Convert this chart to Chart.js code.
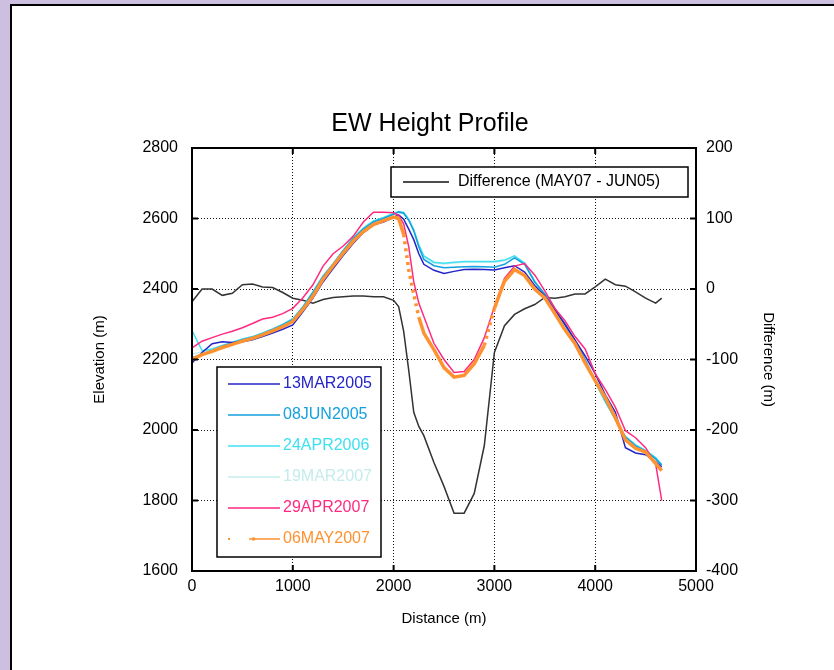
<!DOCTYPE html>
<html>
<head>
<meta charset="utf-8">
<script src="https://cdn.jsdelivr.net/npm/chart.js@4/dist/chart.umd.min.js"></script>
<style>
  html, body { margin: 0; padding: 0; overflow: hidden; background: #ccbfe0; }
  #panel { position: absolute; left: 10px; top: 4px; width: 900px; height: 800px; background: #fff; border: 2px solid #000; }
  #c { position: absolute; left: 0; top: 0; }
</style>
</head>
<body>
<div id="panel"></div>
<canvas id="c" width="834" height="670"></canvas>
<script>
// distance along the profile (m)
const distance = [0, 100, 200, 300, 400, 500, 600, 700, 800, 900, 1000, 1100, 1200, 1300, 1400, 1500, 1600, 1700, 1800, 1900, 2000,
  2050, 2100, 2150, 2200, 2250,
  2300, 2400, 2500, 2600, 2700, 2800, 2900, 3000, 3100, 3200, 3300, 3400, 3500, 3600, 3700, 3800, 3900, 4000, 4100, 4200, 4300, 4400, 4500, 4600,
  4660];

// elevation (m) per survey date
const mar2005 = [2190, 2220, 2245, 2250, 2248, 2250, 2256, 2265, 2275, 2286, 2298, 2335, 2374, 2420, 2458, 2495, 2530, 2560, 2582, 2590, 2603,
  2610, 2598, 2570, 2540, 2500,
  2470, 2453, 2444, 2450, 2455, 2456, 2455, 2454, 2460, 2466, 2448, 2410, 2380, 2340, 2300, 2255, 2210, 2160, 2100, 2050, 1950, 1935, 1930, 1910,
  1895];
const jun2005 = [2205, 2215, 2226, 2238, 2247, 2256, 2263, 2273, 2285, 2298, 2313, 2348, 2390, 2435, 2470, 2508, 2543, 2570, 2590, 2600, 2612,
  2618, 2615, 2595, 2565, 2520,
  2484, 2466, 2460, 2462, 2463, 2464, 2463, 2462, 2470, 2488, 2470, 2420, 2385, 2345, 2300, 2255, 2200, 2140, 2085, 2030, 1980, 1955, 1940, 1918,
  1900];
const apr2006 = [2282, 2225, 2230, 2240, 2249, 2258, 2265, 2275, 2287, 2300, 2316, 2350, 2392, 2437, 2472, 2510, 2546, 2573, 2593, 2603, 2614,
  2620, 2617, 2598, 2568, 2525,
  2494, 2476, 2473, 2476, 2478, 2478, 2478, 2478, 2482, 2494, 2474, 2422, 2384, 2342, 2296, 2250, 2195, 2135, 2080, 2030, 1982, 1958, 1942, 1922,
  1902];
const mar2007 = [2215, 2222, 2229, 2239, 2248, 2257, 2264, 2274, 2286, 2299, 2314, 2349, 2391, 2436, 2471, 2509, 2545, 2572, 2592, 2602, 2613,
  2619, 2616, 2597, 2566, 2522,
  2490, 2474, 2471, 2474, 2476, 2476, 2476, 2476, 2480, 2490, 2472, 2421, 2386, 2344, 2298, 2252, 2198, 2138, 2082, 2032, 1980, 1956, 1940, 1920,
  1900];
const apr2007 = [2233, 2252, 2262, 2272, 2280, 2290, 2302, 2315, 2320, 2330, 2345, 2375, 2412, 2465, 2500, 2522, 2550, 2590, 2618, 2618, 2616,
  2608, 2585, 2520, 2420, 2360,
  2322, 2246, 2200, 2163, 2166, 2200, 2262, 2350, 2430, 2465, 2472, 2440, 2395, 2345, 2310, 2265, 2230, 2160, 2115, 2065, 1998, 1978, 1950, 1903,
  1800];
const may2007 = [2200, 2214, 2223, 2234, 2243, 2252, 2260, 2270, 2281, 2293, 2308, 2342, 2380, 2428, 2466, 2502, 2536, 2563, 2583, 2594, 2604,
  2600, 2555, 2455, 2385, 2320,
  2275, 2228, 2177, 2150, 2155, 2188, 2240, 2345, 2422, 2455, 2438, 2400, 2375, 2330, 2284, 2245, 2190, 2140, 2092, 2035, 1972, 1948, 1937, 1905,
  1885];

// difference MAY07 - JUN05 (m), right axis
const difference = [-18, 0, 0, -9, -6, 6, 7, 3, 2, -5, -13, -16, -20, -15, -12, -11, -10, -10, -11, -11, -16,
  -25, -60, -115, -175, -195,
  -208, -246, -280, -318, -318, -290, -222, -90, -52, -36, -28, -22, -12, -13, -11, -7, -7, 3, 14, 6, 4, -4, -13, -20,
  -13];

const seriesLabels = ["13MAR2005", "08JUN2005", "24APR2006", "19MAR2007", "29APR2007", "06MAY2007"];
const seriesColors = ["#2424c8", "#14a0e0", "#3ee0f2", "#c4ecec", "#ff2a80", "#ff9230"];
const seriesValues = [mar2005, jun2005, apr2006, mar2007, apr2007, may2007];
const diffLabel = "Difference (MAY07 - JUN05)";

const pts = arr => distance.map((d, i) => ({ x: d, y: arr[i] }));

Chart.defaults.font.family = "'Liberation Sans', Arial, sans-serif";
Chart.defaults.color = "#000";

const datasets = seriesValues.map((vals, i) => ({
  label: seriesLabels[i],
  data: pts(vals),
  borderColor: seriesColors[i],
  borderWidth: i === 5 ? 3.5 : 1.5,
  pointRadius: 0,
  yAxisID: "y",
  order: [3, 4, 5, 6, 2, 1][i]
}));
// orange series is plotted as dots where the profile is steep
datasets[5].segment = {
  borderDash: c => Math.abs((c.p1.parsed.y - c.p0.parsed.y) / (c.p1.parsed.x - c.p0.parsed.x)) > 0.95 ? [3, 4] : undefined
};
datasets.push({
  label: diffLabel,
  data: pts(difference),
  borderColor: "#333",
  borderWidth: 1.5,
  pointRadius: 0,
  yAxisID: "y2",
  order: 7
});

// frame, inward ticks and the two legend boxes
const framePlugin = {
  id: "frame",
  afterDatasetsDraw(chart) {
    const { ctx, chartArea: a, scales } = chart;
    const line = (x1, y1, x2, y2) => { ctx.beginPath(); ctx.moveTo(x1, y1); ctx.lineTo(x2, y2); ctx.stroke(); };
    ctx.save();
    ctx.strokeStyle = "#000";
    ctx.lineWidth = 2;
    ctx.strokeRect(a.left, a.top, a.width, a.height);
    scales.x.ticks.forEach(t => {
      const px = scales.x.getPixelForValue(t.value);
      line(px, a.bottom, px, a.bottom - 6);
      line(px, a.top, px, a.top + 6);
    });
    scales.y.ticks.forEach(t => {
      const py = scales.y.getPixelForValue(t.value);
      line(a.left, py, a.left + 6, py);
    });
    scales.y2.ticks.forEach(t => {
      const py = scales.y2.getPixelForValue(t.value);
      line(a.right, py, a.right - 6, py);
    });

    ctx.font = "16px 'Liberation Sans', Arial, sans-serif";
    ctx.textBaseline = "middle";
    ctx.textAlign = "left";

    // difference legend
    ctx.fillStyle = "#fff";
    ctx.lineWidth = 1.5;
    ctx.fillRect(a.left + 199, a.top + 19, 297, 30);
    ctx.strokeRect(a.left + 199, a.top + 19, 297, 30);
    ctx.strokeStyle = "#111";
    line(a.left + 211, a.top + 34, a.left + 257, a.top + 34);
    ctx.fillStyle = "#000";
    ctx.fillText(diffLabel, a.left + 266, a.top + 34);

    // survey legend
    const lx = a.left + 25, ly = a.top + 219;
    ctx.fillStyle = "#fff";
    ctx.strokeStyle = "#000";
    ctx.fillRect(lx, ly, 164, 190);
    ctx.strokeRect(lx, ly, 164, 190);
    seriesLabels.forEach((lab, i) => {
      const y = ly + 17 + i * 31;
      ctx.strokeStyle = seriesColors[i];
      ctx.lineWidth = 1.5;
      if (i === 5) {
        ctx.fillStyle = seriesColors[i];
        ctx.fillRect(lx + 11, y - 1, 2, 2);
        line(lx + 32, y, lx + 63, y);
        ctx.fillRect(lx + 35, y - 1.5, 3, 3);
      } else {
        line(lx + 11, y, lx + 63, y);
      }
      ctx.fillStyle = seriesColors[i];
      ctx.fillText(lab, lx + 66, y);
    });
    ctx.restore();
  }
};

const grid = { color: "#111", lineWidth: 1, drawTicks: false };
const dotted = { display: false, dash: [1, 2] };
const plain = v => String(v);

new Chart(document.getElementById("c"), {
  type: "line",
  data: { datasets },
  plugins: [framePlugin],
  options: {
    responsive: false,
    animation: false,
    layout: { padding: { left: 82, right: 56, top: 97, bottom: 0 } },
    plugins: {
      legend: { display: false },
      tooltip: { enabled: false },
      title: {
        display: true,
        text: "EW Height Profile",
        font: { size: 25, weight: "normal" },
        color: "#000",
        padding: { top: 12, bottom: 9 }
      }
    },
    scales: {
      x: {
        type: "linear",
        min: 0, max: 5000,
        ticks: { stepSize: 1000, padding: 6, font: { size: 16 }, color: "#000", callback: plain },
        grid,
        border: dotted,
        title: { display: true, text: "Distance (m)", font: { size: 15 }, padding: { top: 0, bottom: 42 } },
        afterFit: s => { s.height = 99; }
      },
      y: {
        position: "left",
        min: 1600, max: 2800,
        ticks: { stepSize: 200, padding: 14, font: { size: 16 }, color: "#000", callback: plain },
        grid,
        border: dotted,
        title: { display: true, text: "Elevation (m)", font: { size: 15 }, padding: { top: 9, bottom: 0 } },
        afterFit: s => { s.width = 110; }
      },
      y2: {
        position: "right",
        min: -400, max: 200,
        ticks: { stepSize: 100, padding: 10, font: { size: 16 }, color: "#000", callback: plain },
        grid: { display: false, drawTicks: false },
        border: { display: false },
        title: { display: true, text: "Difference (m)", font: { size: 15 }, padding: { top: 1, bottom: 0 } },
        afterFit: s => { s.width = 82; }
      }
    }
  }
});
</script>
</body>
</html>
